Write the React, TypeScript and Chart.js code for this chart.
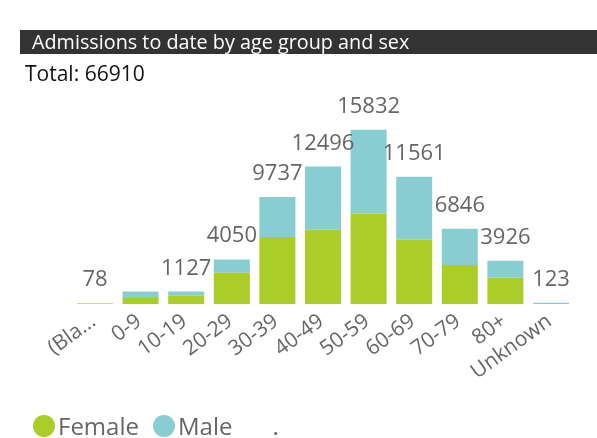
import React, { useEffect, useRef } from "react";
import { Chart, registerables } from "chart.js";

Chart.register(...registerables);

const categories = ["(Blank)", "0-9", "10-19", "20-29", "30-39", "40-49", "50-59", "60-69", "70-79", "80+", "Unknown"];
const tickLabels = ["(Bla...", "0-9", "10-19", "20-29", "30-39", "40-49", "50-59", "60-69", "70-79", "80+", "Unknown"];
const female = [40, 546, 740, 2848, 6097, 6761, 8217, 5851, 3549, 2393, 0];
const male = [38, 588, 387, 1202, 3640, 5735, 7615, 5710, 3297, 1533, 123];
const totals = [78, 1134, 1127, 4050, 9737, 12496, 15832, 11561, 6846, 3926, 123];
const hiddenTotals = ["0-9"];
const grandTotal = 66910;
const seriesNames = ["Female", "Male"];
const seriesColors = ["#abcd28", "#88cdd1"];
const titleText = "Admissions to date by age group and sex";
const yMax = 18000;

const FONT = "'Open Sans', 'Noto Sans', sans-serif";

const labelPlugin = {
  id: "stackTotalsAndTicks",
  afterDatasetsDraw(chart: any) {
    const ctx = chart.ctx;
    const top = chart.getDatasetMeta(1);
    ctx.save();
    ctx.fillStyle = "#666666";
    ctx.font = `22px ${FONT}`;
    ctx.textAlign = "center";
    ctx.textBaseline = "alphabetic";
    top.data.forEach((bar: any, i: number) => {
      if (hiddenTotals.includes(categories[i])) return;
      ctx.fillText(String(totals[i]), bar.x, bar.y - 17);
    });
    const xs = chart.scales.x;
    const bottom = chart.chartArea.bottom;
    ctx.font = `21px ${FONT}`;
    ctx.textAlign = "right";
    ctx.textBaseline = "alphabetic";
    tickLabels.forEach((t, i) => {
      const px = xs.getPixelForValue(i);
      ctx.save();
      ctx.translate(px + 2, bottom + 20);
      ctx.rotate((-36 * Math.PI) / 180);
      ctx.fillText(t, 0, 0);
      ctx.restore();
    });
    ctx.restore();
  },
};

export default function App() {
  const ref = useRef<HTMLCanvasElement | null>(null);

  useEffect(() => {
    if (!ref.current) return;
    const chart = new Chart(ref.current, {
      type: "bar",
      data: {
        labels: categories,
        datasets: [
          { label: seriesNames[0], data: female, backgroundColor: seriesColors[0], borderWidth: 0 },
          { label: seriesNames[1], data: male, backgroundColor: seriesColors[1], borderWidth: 0 },
        ],
      },
      options: {
        animation: false,
        responsive: false,
        devicePixelRatio: 1,
        layout: { padding: { left: 72.2, right: 23.2, top: 106, bottom: 134 } },
        datasets: { bar: { categoryPercentage: 1, barPercentage: 0.79 } } as any,
        scales: {
          x: { display: false, stacked: true },
          y: { display: false, stacked: true, min: 0, max: yMax },
        },
        plugins: { legend: { display: false }, tooltip: { enabled: false }, title: { display: false } },
      },
      plugins: [labelPlugin],
    });
    return () => chart.destroy();
  }, []);

  return (
    <div style={{ position: "fixed", left: 0, top: 0, width: 597, height: 438, background: "#fff", fontFamily: FONT, overflow: "hidden" }}>
      <canvas ref={ref} width={597} height={438} style={{ position: "absolute", left: 0, top: 0 }} />
      <div
        style={{
          position: "absolute",
          left: 20,
          top: 30,
          width: 577,
          height: 24,
          background: "#333333",
          color: "#ffffff",
          fontSize: 19.8,
          lineHeight: "24px",
          paddingLeft: 12,
          boxSizing: "border-box",
          whiteSpace: "nowrap",
        }}
      >
        {titleText}
      </div>
      <div style={{ position: "absolute", left: 25, top: 63, fontSize: 21, lineHeight: "21px", color: "#111", whiteSpace: "nowrap" }}>
        Total: {grandTotal}
      </div>
      <div style={{ position: "absolute", left: 33, top: 414, height: 24, display: "flex", alignItems: "center", fontSize: 24, lineHeight: "24px", color: "#666666", whiteSpace: "nowrap" }}>
        {seriesNames.map((n, i) => (
          <span key={n} style={{ display: "flex", alignItems: "center", marginRight: 14 }}>
            <span style={{ display: "inline-block", width: 22, height: 22, borderRadius: "50%", background: seriesColors[i], marginRight: 3 }} />
            <span>{n}</span>
          </span>
        ))}
        <span style={{ marginLeft: 26 }}>.</span>
      </div>
    </div>
  );
}
